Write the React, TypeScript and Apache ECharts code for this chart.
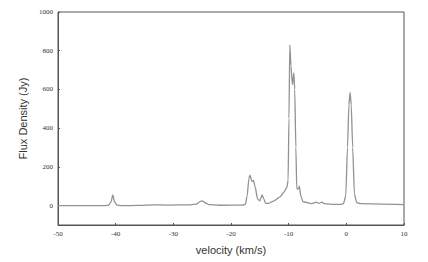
import React, { useEffect, useRef } from "react";
import * as echarts from "echarts";

const velocity = [
  -50, -42, -41.2, -40.8, -40.5, -40.2, -39.8, -39, -36, -33.5, -31, -27, -26, -25.3, -25, -24.5, -23.8, -22,
  -18, -17.5, -17.2, -16.9, -16.7, -16.4, -16.1, -15.8, -15.4, -15.0, -14.6, -14.3, -14.0, -13.5, -12.5, -11.5,
  -10.9, -10.3, -10.1, -9.95, -9.8, -9.6, -9.35, -9.1, -8.95, -8.75, -8.6, -8.4, -8.15, -7.9, -7.5, -6, -5.2,
  -4.8, -4.2, -3.8, -2, -1, -0.5, -0.1, 0.2, 0.45, 0.65, 0.85, 1.1, 1.4, 1.8, 2.5, 10,
];
const flux = [
  0, 0, 2, 20, 55, 20, 3, 0, 1, 4, 3, 4, 8, 22, 25, 15, 5, 2,
  3, 8, 50, 140, 158, 125, 130, 95, 35, 25, 55, 35, 12, 12, 25, 45,
  67, 95, 130, 450, 830, 720, 625, 685, 600, 300, 90, 85, 100, 50, 20, 10, 18,
  12, 18, 10, 6, 6, 10, 50, 300, 520, 585, 520, 300, 60, 15, 10, 5,
];
const yTicks = [0, 200, 400, 600, 800, 1000];

export default function App() {
  const ref = useRef<HTMLDivElement>(null);
  useEffect(() => {
    const chart = echarts.init(ref.current!, null, { renderer: "svg" });
    const data = velocity.map((v, i) => [v, flux[i]]);
    const labelFont = "'Liberation Serif', 'DejaVu Serif', serif";
    chart.setOption({
      animation: false,
      backgroundColor: "#fff",
      grid: { left: 58, top: 12, width: 346, height: 213, show: true, borderColor: "#555", borderWidth: 1 },
      xAxis: {
        type: "value",
        min: -50,
        max: 10,
        interval: 10,
        name: "velocity (km/s)",
        nameLocation: "middle",
        nameGap: 19,
        nameTextStyle: { fontFamily: "'Liberation Sans', sans-serif", fontSize: 11, color: "#333" },
        axisLine: { show: true, onZero: false, lineStyle: { color: "#555" } },
        axisTick: { show: true, inside: true, length: 2, lineStyle: { color: "#555" } },
        axisLabel: { fontFamily: labelFont, fontSize: 7, color: "#333", margin: 5, formatter: (v: number) => String(v) },
        splitLine: { show: false },
      },
      yAxis: {
        type: "value",
        min: -100,
        max: 1000,
        name: "Flux Density (Jy)",
        nameLocation: "middle",
        nameRotate: 90,
        nameGap: 21,
        nameTextStyle: { fontFamily: "'Liberation Sans', sans-serif", fontSize: 11, color: "#333" },
        axisLine: { show: true, onZero: false, lineStyle: { color: "#555" } },
        axisTick: { show: true, inside: true, length: 2, customValues: yTicks, lineStyle: { color: "#555" } },
        axisLabel: {
          fontFamily: labelFont,
          fontSize: 7,
          color: "#333",
          margin: 5,
          customValues: yTicks,
          formatter: (v: number) => String(v),
        },
        splitLine: { show: false },
      },
      series: [
        {
          type: "line",
          data,
          showSymbol: false,
          smooth: 0.2,
          smoothMonotone: "x",
          lineStyle: { color: "#929292", width: 1.3 },
        },
      ],
    });
    return () => chart.dispose();
  }, []);
  return <div ref={ref} style={{ position: "fixed", left: 0, top: 0, width: 428, height: 262 }} />;
}
